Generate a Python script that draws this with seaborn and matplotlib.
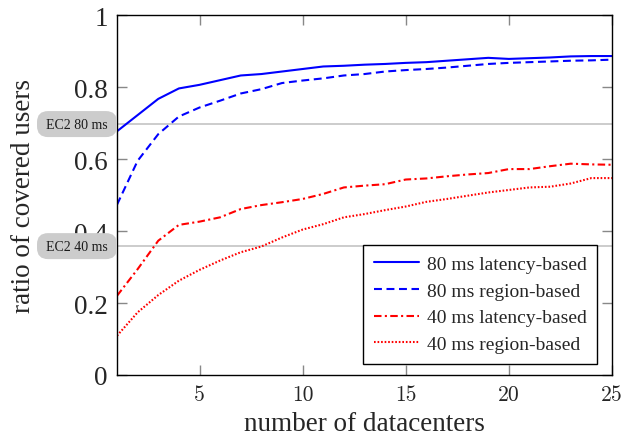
import matplotlib
matplotlib.use("Agg")
import matplotlib.pyplot as plt
import seaborn as sns
import pandas as pd
from matplotlib.patches import FancyBboxPatch

x = list(range(1, 26))
lat80 = [0.677, 0.722, 0.767, 0.796, 0.806, 0.819, 0.832, 0.836, 0.843, 0.850,
         0.857, 0.859, 0.862, 0.864, 0.867, 0.869, 0.873, 0.877, 0.881, 0.878,
         0.880, 0.882, 0.885, 0.886, 0.886]
reg80 = [0.473, 0.595, 0.669, 0.718, 0.743, 0.762, 0.782, 0.794, 0.811, 0.818,
         0.824, 0.832, 0.836, 0.843, 0.847, 0.850, 0.854, 0.859, 0.864, 0.867,
         0.869, 0.871, 0.873, 0.874, 0.876]
lat40 = [0.220, 0.294, 0.373, 0.417, 0.426, 0.438, 0.461, 0.472, 0.480, 0.489,
         0.503, 0.521, 0.526, 0.530, 0.543, 0.546, 0.552, 0.557, 0.561, 0.572,
         0.572, 0.580, 0.587, 0.585, 0.584]
reg40 = [0.109, 0.174, 0.222, 0.262, 0.292, 0.318, 0.341, 0.357, 0.382, 0.404,
         0.419, 0.438, 0.447, 0.458, 0.468, 0.481, 0.489, 0.498, 0.507, 0.514,
         0.521, 0.523, 0.532, 0.547, 0.547]
series_names = ["80 ms latency-based", "80 ms region-based",
                "40 ms latency-based", "40 ms region-based"]
ec2_labels = ["EC2 80 ms", "EC2 40 ms"]
ec2_values = [0.697, 0.358]
x_ticks = [5, 10, 15, 20, 25]
y_ticks = [0, 0.2, 0.4, 0.6, 0.8, 1]
y_ticklabels = ["0", "0.2", "0.4", "0.6", "0.8", "1"]

sns.set_theme(style="ticks")
plt.rcParams['font.family'] = ['Liberation Serif', 'DejaVu Serif']

W, H = 624, 439
fig = plt.figure(figsize=(W / 100, H / 100), dpi=100)
ax_l, ax_r, ax_t, ax_b = 117, 612, 16, 376
ax = fig.add_axes([ax_l / W, 1 - ax_b / H, (ax_r - ax_l) / W, (ax_b - ax_t) / H])
axw, axh = ax_r - ax_l, ax_b - ax_t

styles = [
    dict(color="#0000ff", linestyle="-"),
    dict(color="#0000ff", linestyle=(0, (3.8, 2.2))),
    dict(color="#ff0000", linestyle=(0, (3.6, 1.6, 1.0, 1.6))),
    dict(color="#ff0000", linestyle=(0, (0.8, 0.9))),
]
for name, vals, st in zip(series_names, [lat80, reg80, lat40, reg40], styles):
    df = pd.DataFrame({"x": x, "y": vals})
    sns.lineplot(data=df, x="x", y="y", ax=ax, label=name, lw=1.5, **st)

trans = ax.get_yaxis_transform()
box_w_px, box_h_px = 80, 26
for lab, v in zip(ec2_labels, ec2_values):
    ax.axhline(v, color="#cccccc", lw=1.4, zorder=0.5)
    bw = box_w_px / axw
    bh = box_h_px / axh
    patch = FancyBboxPatch((-bw, v - bh / 2), bw, bh,
                           boxstyle="round,pad=0,rounding_size=%f" % (11 / axw),
                           mutation_aspect=(1 / axh) / (1 / axw),
                           transform=trans, fc="#cccccc", ec="none",
                           clip_on=False, zorder=6)
    ax.add_patch(patch)
    ax.text(-bw / 2, v, lab, transform=trans, ha="center", va="center",
            fontsize=10, color="#1a1a1a", zorder=7, clip_on=False)

ax.set_xlim(1, 25)
ax.set_ylim(0, 1)
ax.set_xticks(x_ticks)
ax.set_yticks(y_ticks)
ax.set_yticklabels(y_ticklabels)
ax.tick_params(direction="in", length=7.5, width=1, color="#888888",
               top=True, right=True)
ax.tick_params(axis="y", labelsize=19.5, pad=6.5)
ax.tick_params(axis="x", labelsize=15.5, pad=7)
for lbl in ax.get_xticklabels():
    lbl.set_fontfamily(['cmr10', 'DejaVu Serif'])
for sp in ax.spines.values():
    sp.set_color("black")
    sp.set_linewidth(1.0)
ax.set_xlabel("number of datacenters", fontsize=19.5, labelpad=5)
ax.set_ylabel("ratio of covered users", fontsize=19.5)
ax.yaxis.set_label_coords(-0.163, 0.5)

leg = ax.legend(loc="lower right", bbox_to_anchor=(0.970, 0.031), fontsize=14,
                frameon=True, fancybox=False, edgecolor="black",
                handlelength=2.3, labelspacing=0.47, borderpad=0.55,
                handletextpad=0.4, borderaxespad=0)
leg.get_frame().set_linewidth(1.0)
leg.get_frame().set_alpha(1)

fig.savefig("out.png", dpi=100)
